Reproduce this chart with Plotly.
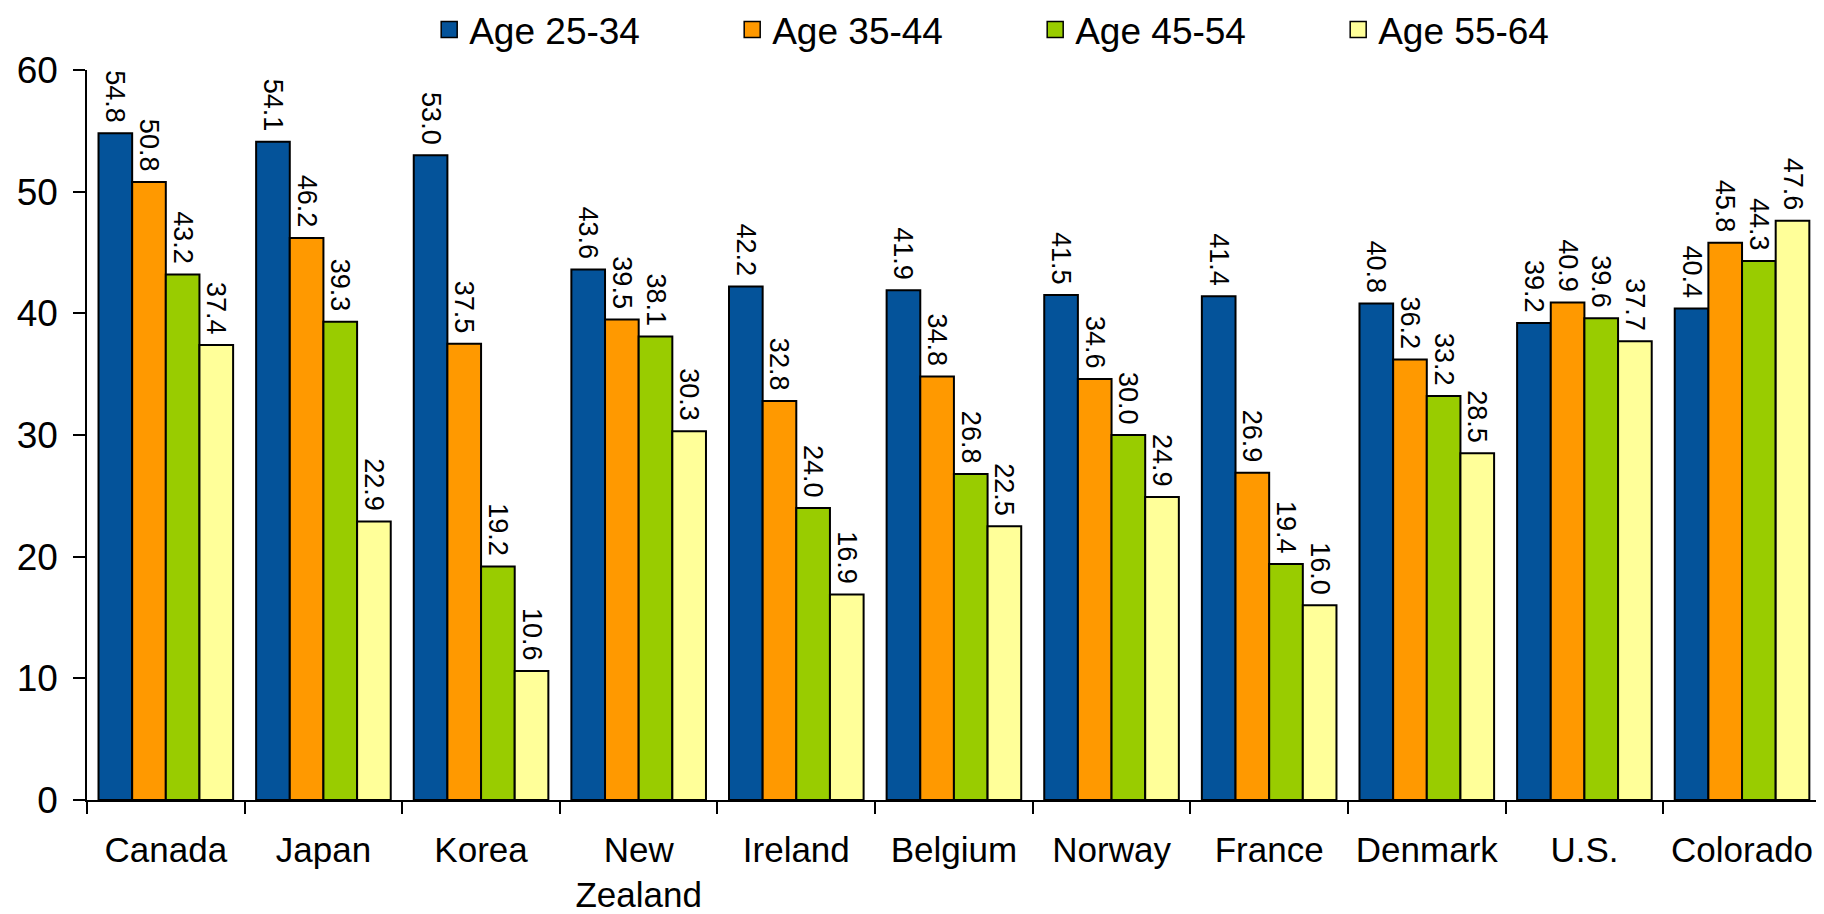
import plotly.graph_objects as go

categories = ["Canada", "Japan", "Korea", "New<br>Zealand", "Ireland", "Belgium",
              "Norway", "France", "Denmark", "U.S.", "Colorado"]
series_names = ["Age 25-34", "Age 35-44", "Age 45-54", "Age 55-64"]
age_25_34 = [54.8, 54.1, 53.0, 43.6, 42.2, 41.9, 41.5, 41.4, 40.8, 39.2, 40.4]
age_35_44 = [50.8, 46.2, 37.5, 39.5, 32.8, 34.8, 34.6, 26.9, 36.2, 40.9, 45.8]
age_45_54 = [43.2, 39.3, 19.2, 38.1, 24.0, 26.8, 30.0, 19.4, 33.2, 39.6, 44.3]
age_55_64 = [37.4, 22.9, 10.6, 30.3, 16.9, 22.5, 24.9, 16.0, 28.5, 37.7, 47.6]
colors = ["#04539A", "#FF9900", "#99CC00", "#FFFF99"]

FONT = "Liberation Sans, Arial, sans-serif"

fig = go.Figure()
for name, vals, col in zip(series_names, [age_25_34, age_35_44, age_45_54, age_55_64], colors):
    fig.add_trace(go.Bar(
        x=categories, y=vals, name=name, showlegend=False,
        marker=dict(color=col, line=dict(color="black", width=2)),
        text=[f"{v:.1f}\u00a0" for v in vals], textposition="outside", textangle=90,
        textfont=dict(family=FONT, size=27, color="black"),
        constraintext="none", cliponaxis=False,
    ))
    fig.add_trace(go.Scatter(
        x=[None], y=[None], mode="markers", name=name,
        marker=dict(symbol="square", size=16, color=col, line=dict(color="black", width=1.5)),
    ))

# the page body adds an 8px offset, so the figure is 8px smaller and margins shifted
fig.update_layout(
    width=1816, height=906,
    paper_bgcolor="white", plot_bgcolor="white",
    margin=dict(l=79, r=0, t=62, b=114, autoexpand=False),
    barmode="group", bargap=0.146, bargroupgap=0,
    font=dict(family=FONT, color="black"),
    legend=dict(orientation="h", x=0.197, xanchor="left", y=1.0548, yanchor="middle",
                font=dict(family=FONT, size=37, color="black"),
                entrywidth=258, entrywidthmode="pixels", traceorder="normal",
                itemclick=False, bgcolor="rgba(0,0,0,0)"),
    xaxis=dict(range=[-0.5, 10.52], showline=True, linecolor="black", linewidth=1.5,
               ticks="outside", tickson="boundaries", ticklen=12, tickwidth=1.5,
               tickcolor="black", tickfont=dict(family=FONT, size=35, color="black"),
               ticklabelstandoff=18, showgrid=False, zeroline=False),
    yaxis=dict(range=[0, 60], tickvals=[0, 10, 20, 30, 40, 50, 60], showline=True,
               linecolor="black", linewidth=1.5, ticks="outside", ticklen=12, tickwidth=1.5,
               tickcolor="black", tickfont=dict(family=FONT, size=37, color="black"),
               ticklabelstandoff=8, showgrid=False, zeroline=False),
)

fig.write_html("out.html")
